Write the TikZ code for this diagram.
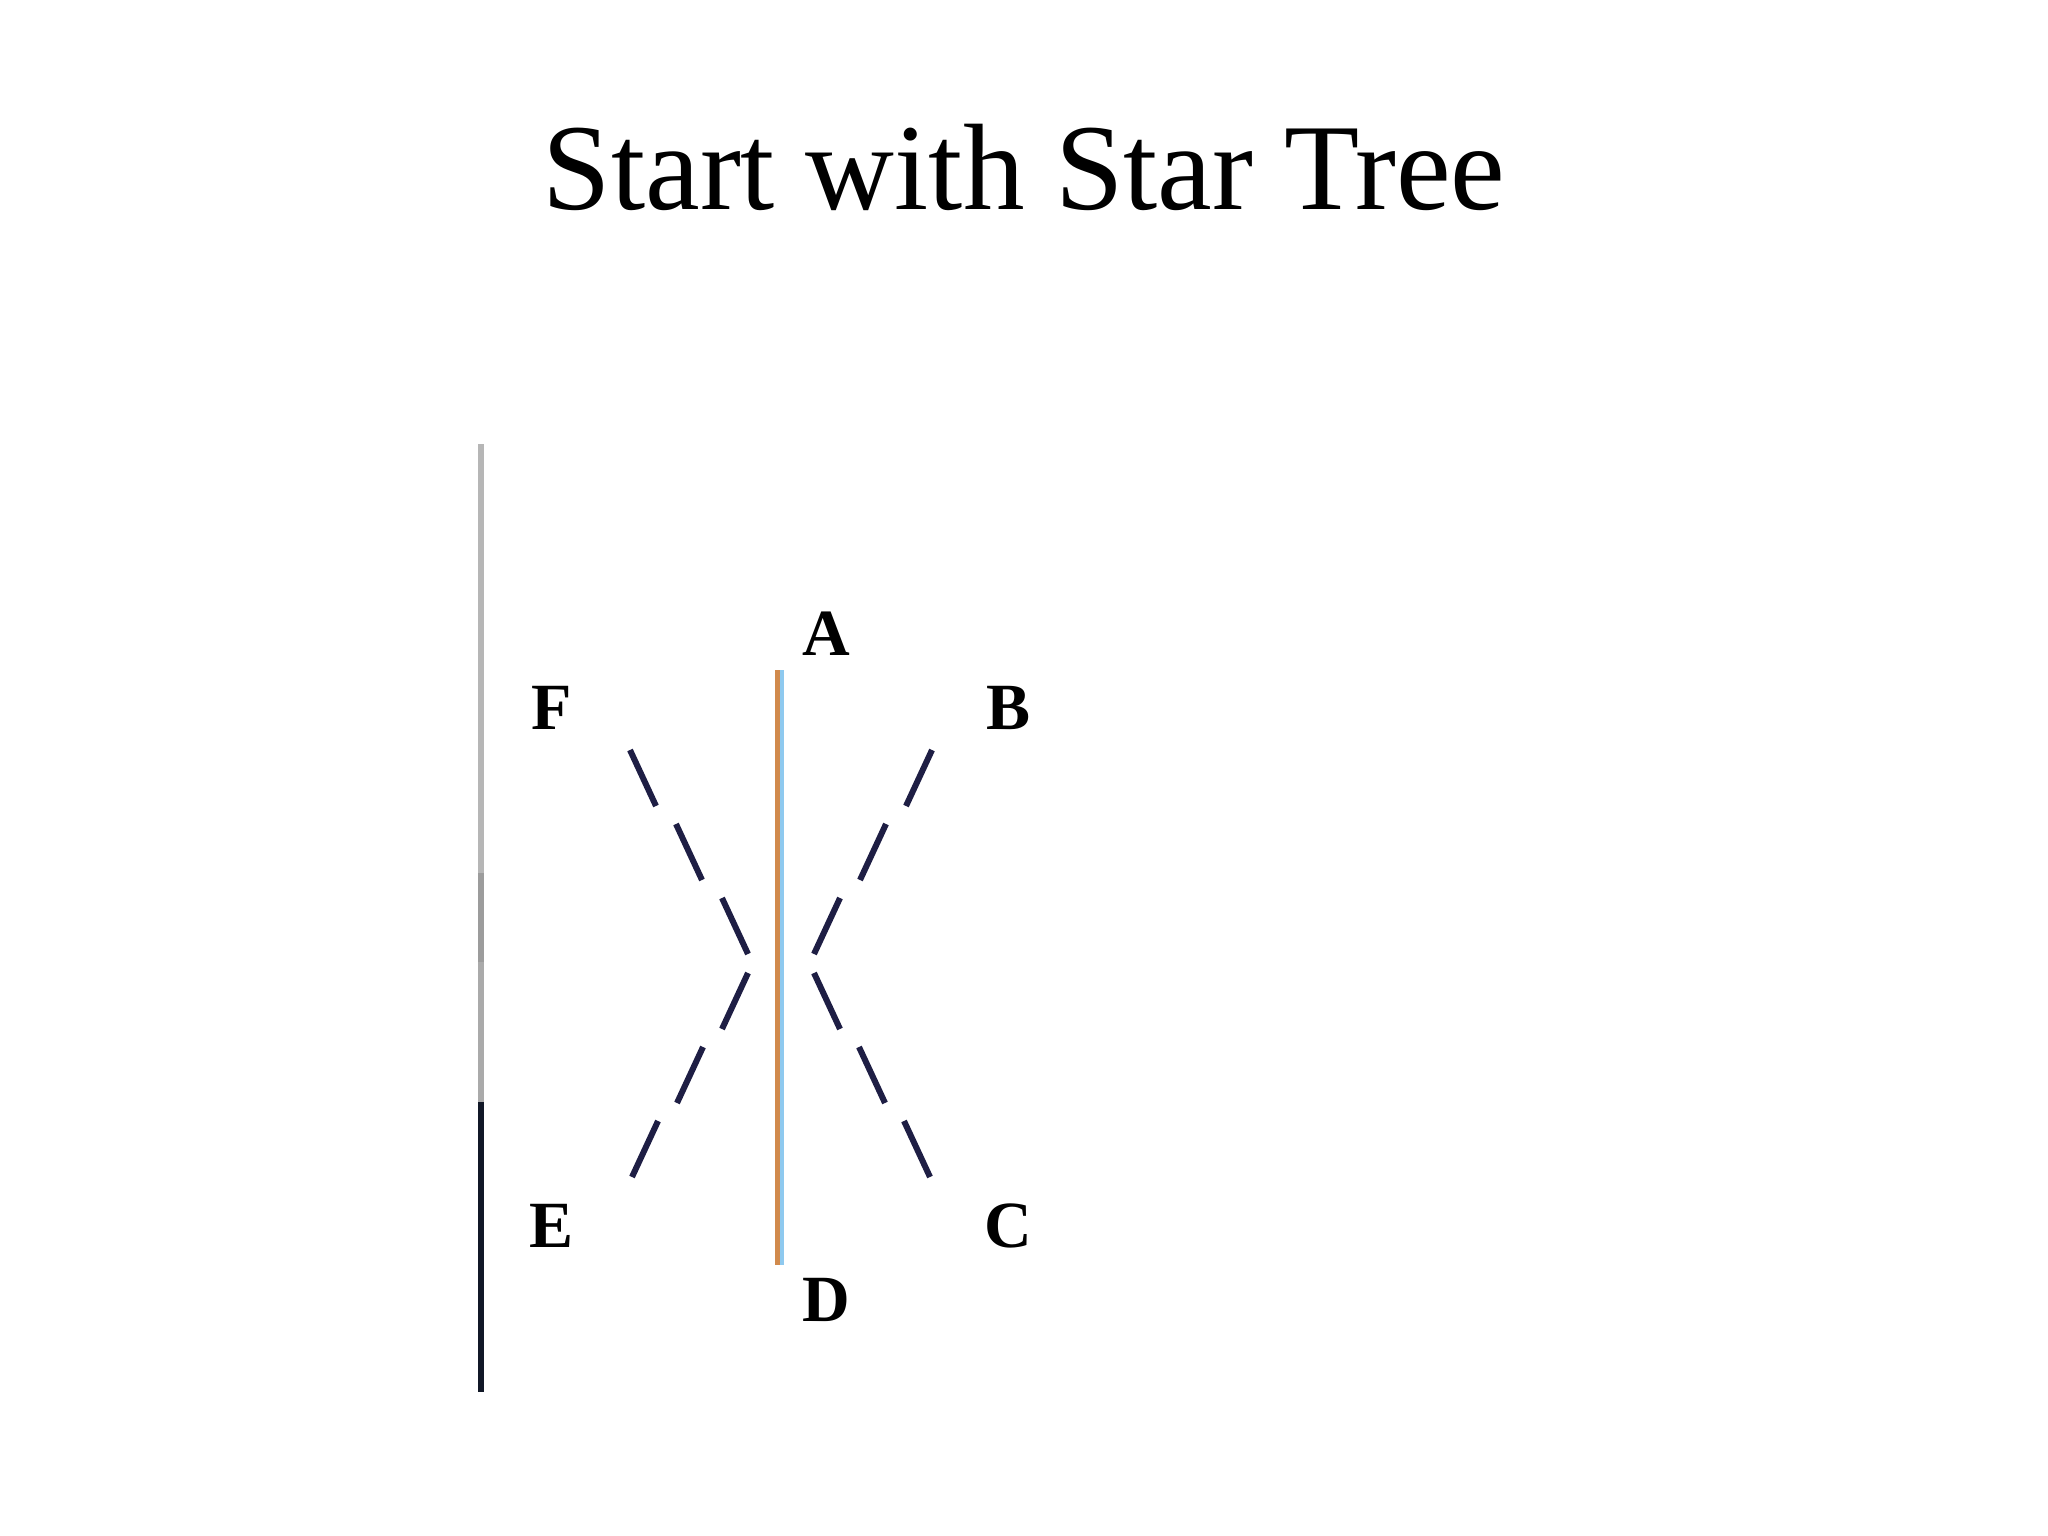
\documentclass[tikz,border=0pt]{standalone}
\usepackage{fontspec}
\setmainfont{Liberation Serif}
\definecolor{barorange}{HTML}{D18A4C}
\definecolor{barblue}{HTML}{8EC9EF}
\definecolor{segcol}{HTML}{1E1E44}
\definecolor{axlight}{HTML}{B6B6B6}
\definecolor{axmid}{HTML}{9C9C9C}
\definecolor{axgray}{HTML}{AAAAAA}
\definecolor{axdark}{HTML}{111827}
\tikzset{
  leaf/.style={font=\bfseries\fontsize{66}{70}\selectfont, anchor=base, inner sep=0pt, text=black},
  seg/.style={draw=segcol, line width=6pt, line cap=butt},
  axseg/.style={line width=5.5pt, line cap=butt}
}
\begin{document}
\begin{tikzpicture}[x=1pt,y=-1pt]
\useasboundingbox[fill=white] (0,0) rectangle (2048,1536);
% title
\node[anchor=base, inner sep=0pt, font=\fontsize{123}{140}\selectfont] (title) at (1024,209) {Start with Star Tree};
% left axis line
\coordinate (l0) at (481,444);
\coordinate (l1) at (481,873);
\coordinate (l2) at (481,962);
\coordinate (l3) at (481,1102);
\coordinate (l4) at (481,1392);
\draw[axseg, axlight] (l0) -- (l1);
\draw[axseg, axmid] (l1) -- (l2);
\draw[axseg, axgray] (l2) -- (l3);
\draw[axseg, axdark] (l3) -- (l4);
% labels
\node[leaf] (A) at (826,655) {A};
\node[leaf] (F) at (552,729) {F};
\node[leaf] (B) at (1008,729) {B};
\node[leaf] (E) at (552,1247) {E};
\node[leaf] (C) at (1008,1247) {C};
\node[leaf] (D) at (826,1321) {D};
% central vertical bar (A--D)
\coordinate (vtop) at (780,670);
\coordinate (vbot) at (780,1265);
\draw[barorange, line width=5pt] ([xshift=-2.5pt]vtop) -- ([xshift=-2.5pt]vbot);
\draw[barblue, line width=3.5pt] ([xshift=1.75pt]vtop) -- ([xshift=1.75pt]vbot);
% F side "\" segments
\foreach \i in {0,1,2}{
  \draw[seg] ({630+46*\i},{750+74*\i}) -- ({656+46*\i},{806+74*\i});
}
% E side "/" segments
\foreach \i in {0,1,2}{
  \draw[seg] ({748-45*\i},{973+74*\i}) -- ({722-45*\i},{1029+74*\i});
}
% B side "/" segments
\foreach \i in {0,1,2}{
  \draw[seg] ({932-46*\i},{750+74*\i}) -- ({906-46*\i},{806+74*\i});
}
% C side "\" segments
\foreach \i in {0,1,2}{
  \draw[seg] ({814+45*\i},{973+74*\i}) -- ({840+45*\i},{1029+74*\i});
}
\end{tikzpicture}
\end{document}
